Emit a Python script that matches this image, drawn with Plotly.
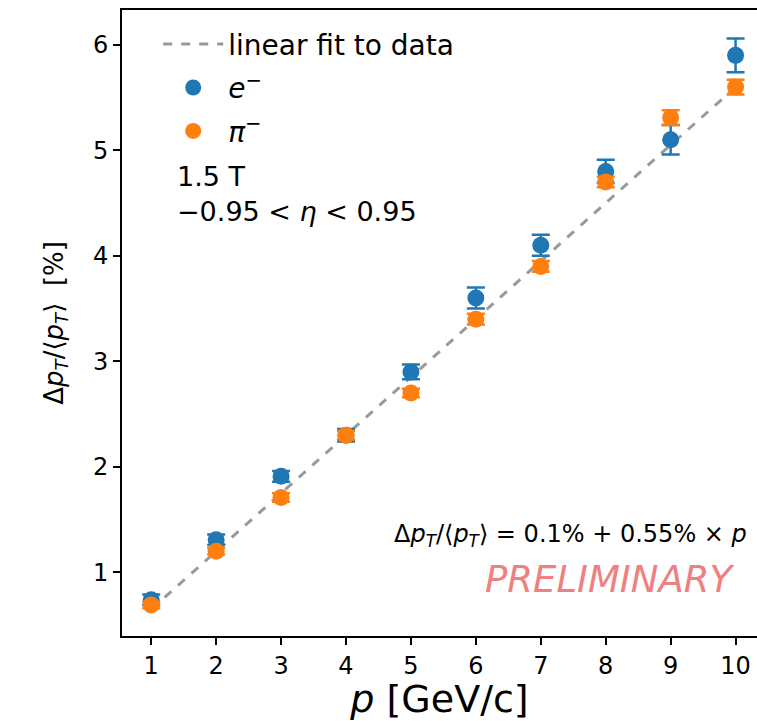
import plotly.graph_objects as go

p_vals = [1, 2, 3, 4, 5, 6, 7, 8, 9, 10]
e_res = [0.74, 1.31, 1.91, 2.30, 2.90, 3.60, 4.10, 4.80, 5.10, 5.90]
e_err = [0.05, 0.05, 0.05, 0.06, 0.07, 0.10, 0.10, 0.11, 0.14, 0.16]
pi_res = [0.69, 1.20, 1.71, 2.30, 2.70, 3.40, 3.90, 4.70, 5.31, 5.60]
pi_err = [0.03, 0.03, 0.04, 0.04, 0.04, 0.05, 0.05, 0.05, 0.07, 0.07]
fit_a, fit_b = 0.1, 0.55
fit_x = [1, 10]
fit_y = [fit_a + fit_b * x for x in fit_x]

FONT = "DejaVu Sans"
BLUE = "#1f77b4"
ORANGE = "#ff7f0e"

fig = go.Figure()
fig.add_trace(go.Scatter(x=fit_x, y=fit_y, mode="lines", name="linear fit to data",
                         legendgroup="g1",
                         line=dict(color="#999999", width=3, dash="dash")))
fig.add_trace(go.Scatter(x=p_vals, y=e_res, mode="markers", name="<i>e</i><sup>−</sup>",
                         legendgroup="g2",
                         marker=dict(color=BLUE, size=17),
                         error_y=dict(type="data", array=e_err, color=BLUE, thickness=2.5, width=9)))
fig.add_trace(go.Scatter(x=p_vals, y=pi_res, mode="markers", name="<i>π</i><sup>−</sup>",
                         legendgroup="g3",
                         marker=dict(color=ORANGE, size=17),
                         error_y=dict(type="data", array=pi_err, color=ORANGE, thickness=2.5, width=9)))

fig.update_layout(
    width=757, height=721,
    margin=dict(l=122, r=0, t=10, b=85),
    plot_bgcolor="white", paper_bgcolor="white",
    font=dict(family=FONT, size=24, color="black"),
    showlegend=True,
    legend=dict(x=0.057, y=0.985, xanchor="left", yanchor="top", bgcolor="rgba(0,0,0,0)",
                font=dict(size=28), itemwidth=60, traceorder="grouped", tracegroupgap=4),
    xaxis=dict(range=[0.55, 10.33], tickmode="array", tickvals=p_vals,
               ticks="outside", ticklen=7, tickwidth=1.6, tickcolor="black",
               showline=True, linecolor="black", linewidth=1.8, mirror=True,
               showgrid=False, zeroline=False, tickfont=dict(size=24),
               title=dict(text="<i>p</i> [GeV/c]", font=dict(size=38), standoff=2)),
    yaxis=dict(range=[0.397, 6.33], tickmode="array", tickvals=[1, 2, 3, 4, 5, 6],
               ticks="outside", ticklen=7, tickwidth=1.6, tickcolor="black",
               showline=True, linecolor="black", linewidth=1.8, mirror=False,
               showgrid=False, zeroline=False, tickfont=dict(size=24)),
)

fig.add_annotation(xref="paper", yref="paper", x=-0.135, y=0.5, textangle=-90,
                   text="Δ<i>p</i><sub><i>T</i></sub>/⟨<i>p</i><sub><i>T</i></sub>⟩  [%]",
                   showarrow=False, font=dict(size=26))
fig.add_annotation(xref="x", yref="y", x=1.37, y=4.92, xanchor="left", yanchor="top",
                   text="1.5 T<br>−0.95 < <i>η</i> < 0.95", align="left",
                   showarrow=False, font=dict(size=27))
fig.add_annotation(xref="x", yref="y", x=10.2, y=1.35, xanchor="right", yanchor="middle",
                   text="Δ<i>p</i><sub><i>T</i></sub>/⟨<i>p</i><sub><i>T</i></sub>⟩ = 0.1% + 0.55% × <i>p</i>",
                   showarrow=False, font=dict(size=24))
fig.add_annotation(xref="x", yref="y", x=10.0, y=0.93, xanchor="right", yanchor="middle",
                   text="<i>PRELIMINARY</i>", showarrow=False,
                   font=dict(size=37, color="#f08080"))

fig.write_html("out.html")
